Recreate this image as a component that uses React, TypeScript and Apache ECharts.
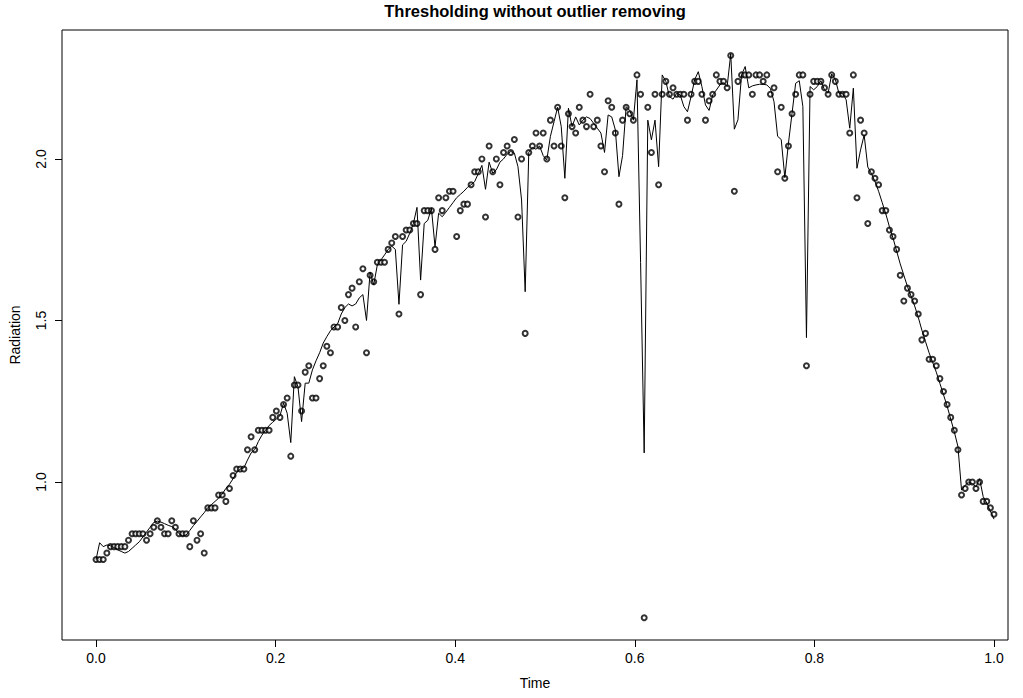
import { useEffect, useRef } from "react";
import * as echarts from "echarts";

// Observed radiation values (open circles), regularly sampled over Time 0..1
const radiation: number[] = [
  0.76, 0.76, 0.76, 0.78, 0.8, 0.8, 0.8, 0.8, 0.8, 0.82,
  0.84, 0.84, 0.84, 0.84, 0.82, 0.84, 0.86, 0.88, 0.86, 0.84,
  0.84, 0.88, 0.86, 0.84, 0.84, 0.84, 0.8, 0.88, 0.82, 0.84,
  0.78, 0.92, 0.92, 0.92, 0.96, 0.96, 0.94, 0.98, 1.02, 1.04,
  1.04, 1.04, 1.1, 1.14, 1.1, 1.16, 1.16, 1.16, 1.16, 1.2,
  1.22, 1.2, 1.24, 1.26, 1.08, 1.3, 1.3, 1.22, 1.34, 1.36,
  1.26, 1.26, 1.32, 1.36, 1.42, 1.4, 1.48, 1.48, 1.54, 1.5,
  1.58, 1.6, 1.48, 1.62, 1.66, 1.4, 1.64, 1.62, 1.68, 1.68,
  1.68, 1.72, 1.74, 1.76, 1.52, 1.76, 1.78, 1.78, 1.8, 1.8,
  1.58, 1.84, 1.84, 1.84, 1.72, 1.88, 1.84, 1.88, 1.9, 1.9,
  1.76, 1.84, 1.86, 1.86, 1.92, 1.96, 1.96, 2.0, 1.82, 2.04,
  1.96, 2.0, 1.92, 2.02, 2.04, 2.02, 2.06, 1.82, 2.0, 1.46,
  2.02, 2.04, 2.08, 2.04, 2.08, 2.0, 2.12, 2.04, 2.16, 2.04,
  1.88, 2.14, 2.1, 2.08, 2.16, 2.12, 2.1, 2.2, 2.1, 2.12,
  2.04, 1.96, 2.18, 2.16, 2.08, 1.86, 2.12, 2.16, 2.14, 2.12,
  2.26, 2.2, 0.58, 2.16, 2.02, 2.2, 1.92, 2.2, 2.24, 2.2,
  2.22, 2.2, 2.2, 2.2, 2.12, 2.2, 2.24, 2.24, 2.2, 2.12,
  2.18, 2.2, 2.26, 2.24, 2.24, 2.22, 2.32, 1.9, 2.24, 2.26,
  2.26, 2.26, 2.2, 2.26, 2.26, 2.24, 2.26, 2.2, 2.22, 1.96,
  2.16, 1.94, 2.04, 2.14, 2.2, 2.26, 2.26, 1.36, 2.2, 2.24,
  2.24, 2.24, 2.22, 2.2, 2.26, 2.24, 2.2, 2.2, 2.2, 2.08,
  2.26, 1.88, 2.12, 2.08, 1.8, 1.96, 1.94, 1.92, 1.84, 1.84,
  1.78, 1.76, 1.72, 1.64, 1.56, 1.6, 1.58, 1.56, 1.52, 1.44,
  1.46, 1.38, 1.38, 1.36, 1.32, 1.28, 1.24, 1.2, 1.16, 1.1,
  0.96, 0.98, 1.0, 1.0, 0.98, 1.0, 0.94, 0.94, 0.92, 0.9,
];

// Thresholded estimate (solid line), same sampling
const estimate: number[] = [
  0.76, 0.812, 0.8, 0.805, 0.803, 0.797, 0.79, 0.785, 0.78, 0.785,
  0.795, 0.805, 0.815, 0.83, 0.845, 0.86, 0.875, 0.879, 0.876, 0.871,
  0.866, 0.862, 0.855, 0.84, 0.833, 0.836, 0.85, 0.865, 0.878, 0.892,
  0.905, 0.921, 0.93, 0.94, 0.95, 0.963, 0.98, 0.993, 1.01, 1.03,
  1.04, 1.044, 1.068, 1.09, 1.1, 1.125, 1.145, 1.16, 1.175, 1.185,
  1.195, 1.205, 1.244, 1.213, 1.122, 1.326, 1.295, 1.187, 1.306, 1.306,
  1.347, 1.375, 1.4, 1.43, 1.45, 1.468, 1.48, 1.49, 1.52, 1.54,
  1.551, 1.545, 1.551, 1.57, 1.58, 1.5, 1.65, 1.61, 1.672, 1.687,
  1.703, 1.72, 1.73, 1.72, 1.55, 1.734, 1.745, 1.77, 1.8, 1.85,
  1.625, 1.8, 1.81, 1.847, 1.728, 1.832, 1.821, 1.835, 1.85, 1.865,
  1.88, 1.89, 1.9, 1.912, 1.92, 1.93, 1.955, 1.98, 1.906, 1.99,
  1.956, 1.966, 1.99, 2.0, 2.015, 2.023, 2.018, 1.976, 1.873, 1.589,
  2.021, 2.035, 2.03, 2.04, 2.01, 1.997, 2.07, 2.115, 2.16, 2.1,
  1.94, 2.157, 2.1, 2.13, 2.105, 2.12, 2.13, 2.125, 2.11, 2.095,
  2.08, 2.02, 2.136, 2.13, 2.09, 1.945, 2.01, 2.162, 2.15, 2.12,
  2.245, 1.68, 1.09, 2.12, 2.059, 2.12, 1.976, 2.26, 2.24, 2.193,
  2.185, 2.203, 2.198, 2.162, 2.146, 2.193, 2.245, 2.27, 2.224, 2.167,
  2.15, 2.198, 2.213, 2.229, 2.236, 2.224, 2.325, 2.092, 2.121, 2.26,
  2.286, 2.22, 2.226, 2.229, 2.231, 2.231, 2.229, 2.218, 2.177, 2.07,
  2.06, 1.942, 2.048, 2.141, 2.234, 2.242, 2.162, 1.447, 2.224, 2.214,
  2.224, 2.242, 2.214, 2.203, 2.263, 2.246, 2.203, 2.203, 2.183, 2.095,
  2.219, 1.971, 2.028, 2.074, 1.975, 1.955, 1.93, 1.9, 1.865, 1.83,
  1.79, 1.755, 1.715, 1.675, 1.64, 1.605, 1.575, 1.545, 1.51, 1.47,
  1.435, 1.4, 1.37, 1.34, 1.305, 1.27, 1.235, 1.195, 1.155, 1.11,
  0.975, 0.99, 1.0, 0.995, 0.985, 1.01, 0.955, 0.935, 0.91, 0.885,
];

const xTicks = [0, 0.2, 0.4, 0.6, 0.8, 1.0];
const yTicks = [1.0, 1.5, 2.0];
const chartTitle = "Thresholding without outlier removing";
const xName = "Time";
const yName = "Radiation";

const FONT = '"Liberation Sans", Arial, Helvetica, sans-serif';

export default function App() {
  const ref = useRef<HTMLDivElement>(null);

  useEffect(() => {
    if (!ref.current) return;
    const chart = echarts.init(ref.current, null, { renderer: "svg" });
    const n = radiation.length;
    const pts = radiation.map((v, i) => [i / (n - 1), v]);
    const fit = estimate.map((v, i) => [i / (n - 1), v]);

    chart.setOption({
      animation: false,
      backgroundColor: "#fff",
      grid: {
        left: 62,
        top: 30,
        width: 946,
        height: 610,
        show: true,
        borderColor: "#000",
        borderWidth: 1,
        backgroundColor: "transparent",
      },
      xAxis: {
        type: "value",
        min: -0.0379,
        max: 1.0156,
        splitLine: { show: false },
        axisLine: { show: false, onZero: false },
        axisTick: {
          show: true,
          inside: false,
          length: 7,
          customValues: xTicks,
          lineStyle: { color: "#000", width: 1 },
        },
        axisLabel: {
          customValues: xTicks,
          formatter: (v: number) => v.toFixed(1),
          color: "#000",
          fontSize: 14,
          fontFamily: FONT,
          margin: 11,
        },
      },
      yAxis: {
        type: "value",
        min: 0.511,
        max: 2.399,
        splitLine: { show: false },
        axisLine: { show: false, onZero: false },
        axisTick: {
          show: true,
          inside: false,
          length: 7,
          customValues: yTicks,
          lineStyle: { color: "#000", width: 1 },
        },
        axisLabel: {
          customValues: yTicks,
          formatter: (v: number) => v.toFixed(1),
          rotate: 90,
          color: "#000",
          fontSize: 14,
          fontFamily: FONT,
          margin: 14,
        },
      },
      graphic: [
        {
          type: "text",
          x: 535,
          y: 11,
          style: {
            text: chartTitle,
            fill: "#000",
            fontSize: 16.5,
            fontWeight: "bold",
            fontFamily: FONT,
            textAlign: "center",
            textVerticalAlign: "middle",
          },
        },
        {
          type: "text",
          x: 535,
          y: 683,
          style: {
            text: xName,
            fill: "#000",
            fontSize: 14,
            fontFamily: FONT,
            textAlign: "center",
            textVerticalAlign: "middle",
          },
        },
        {
          type: "text",
          x: 15,
          y: 335,
          rotation: Math.PI / 2,
          style: {
            text: yName,
            fill: "#000",
            fontSize: 14,
            fontFamily: FONT,
            textAlign: "center",
            textVerticalAlign: "middle",
          },
        },
      ],
      series: [
        {
          type: "scatter",
          data: pts,
          symbol: "emptyCircle",
          symbolSize: 5,
          itemStyle: { color: "#000", borderColor: "#000", borderWidth: 0.7 },
          z: 2,
        },
        {
          type: "line",
          data: fit,
          showSymbol: false,
          symbol: "none",
          lineStyle: { color: "#000", width: 1 },
          z: 3,
        },
      ],
    });

    return () => chart.dispose();
  }, []);

  return (
    <div
      ref={ref}
      style={{ position: "fixed", left: 0, top: 0, width: 1023, height: 698, background: "#fff" }}
    />
  );
}
